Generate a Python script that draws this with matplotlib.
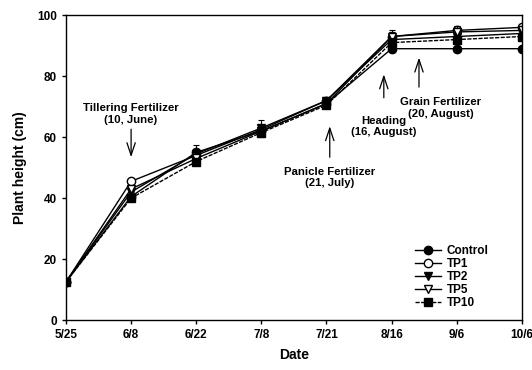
import matplotlib
matplotlib.use('Agg')
import matplotlib.pyplot as plt
import numpy as np

# dates on the x axis (equally spaced categories)
dates = ['5/25', '6/8', '6/22', '7/8', '7/21', '8/16', '9/6', '10/6']

control = [12.5, 40.5, 55.0, 62.0, 71.0, 89.0, 89.0, 89.0]
tp1 = [12.5, 45.5, 54.0, 62.5, 72.0, 93.0, 95.0, 96.0]
tp2 = [12.5, 42.0, 54.5, 63.0, 72.0, 92.0, 93.0, 94.0]
tp5 = [12.5, 43.0, 53.0, 62.0, 71.0, 93.0, 94.5, 95.0]
tp10 = [12.5, 40.0, 52.0, 61.5, 70.5, 91.0, 92.0, 93.0]

err_control = [0.5, 1.0, 1.0, 1.5, 1.0, 1.0, 0.5, 0.5]
err_tp1 = [0.5, 0.8, 1.0, 1.2, 1.0, 1.5, 1.5, 1.0]
err_tp2 = [0.5, 1.0, 3.0, 2.5, 1.0, 2.5, 2.0, 2.0]
err_tp5 = [0.5, 1.0, 1.5, 1.5, 1.0, 2.0, 2.0, 1.5]
err_tp10 = [0.5, 1.0, 1.0, 1.5, 1.0, 1.5, 1.0, 1.0]

plt.rcParams['font.family'] = ['Liberation Sans', 'DejaVu Sans']
plt.rcParams['font.weight'] = 'bold'

fig = plt.figure(figsize=(5.32, 3.70), dpi=100)
ax = fig.add_axes([0.124, 0.135, 0.857, 0.824])

x = np.arange(len(dates))

series = [
    ('Control', control, err_control, 'o', 'black', '-'),
    ('TP1', tp1, err_tp1, 'o', 'white', '-'),
    ('TP2', tp2, err_tp2, 'v', 'black', '-'),
    ('TP5', tp5, err_tp5, 'v', 'white', '-'),
    ('TP10', tp10, err_tp10, 's', 'black', (0, (3, 1))),
]

for name, vals, err, mk, fc, ls in series:
    # error bars first, then the line + marker (label goes on the line only)
    ax.errorbar(x, vals, yerr=err, fmt='none', ecolor='black',
                elinewidth=0.8, capsize=2.5, capthick=0.8)
    ax.plot(x, vals, marker=mk, markersize=6, markerfacecolor=fc,
            markeredgecolor='black', color='black', linewidth=1.0, linestyle=ls,
            label=name)

ax.set_xlim(0, len(dates) - 1)
ax.set_ylim(0, 100)
ax.set_xticks(x)
ax.set_xticklabels(dates)
ax.set_yticks([0, 20, 40, 60, 80, 100])
ax.tick_params(direction='out', length=3, width=1, labelsize=8.5)
for s in ax.spines.values():
    s.set_linewidth(1.0)

ax.set_xlabel('Date', fontsize=10, fontweight='bold', labelpad=5)
ax.set_ylabel('Plant height (cm)', fontsize=10, fontweight='bold', labelpad=7)

# event annotations with open arrows
ap = dict(arrowstyle='->,head_length=0.9,head_width=0.3', color='black', linewidth=0.9)
ax.annotate('', xy=(1.0, 52.5), xytext=(1.0, 63.5), arrowprops=ap)
ax.text(1.0, 67.5, 'Tillering Fertilizer\n(10, June)', ha='center', va='center', fontsize=8.2)

ax.annotate('', xy=(4.05, 64.5), xytext=(4.05, 52.5), arrowprops=ap)
ax.text(4.05, 46.8, 'Panicle Fertilizer\n(21, July)', ha='center', va='center', fontsize=8.2)

ax.annotate('', xy=(4.88, 81.5), xytext=(4.88, 72), arrowprops=ap)
ax.text(4.88, 63.5, 'Heading\n(16, August)', ha='center', va='center', fontsize=8.2)

ax.annotate('', xy=(5.42, 87), xytext=(5.42, 75.5), arrowprops=ap)
ax.text(5.75, 69.5, 'Grain Fertilizer\n(20, August)', ha='center', va='center', fontsize=8.2)

ax.legend(loc='lower right', bbox_to_anchor=(0.95, 0.0), frameon=False, fontsize=8.5,
          handlelength=2.2, handletextpad=0.5, labelspacing=0.1)

fig.savefig('out.png', dpi=100)
